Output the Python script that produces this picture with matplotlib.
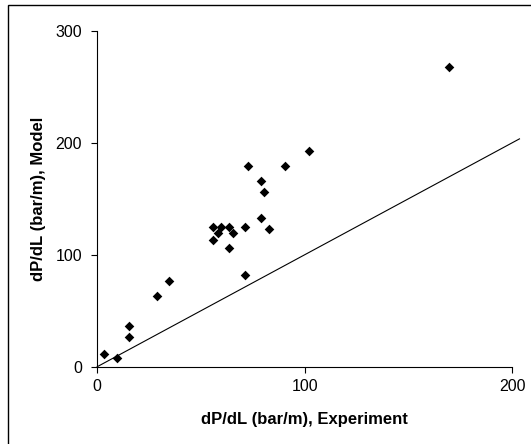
import numpy as np
import matplotlib.pyplot as plt
from matplotlib.patches import Rectangle

plt.rcParams['font.family'] = ['Liberation Sans', 'DejaVu Sans']

# Data
exp = [3.5, 9.6, 15.3, 15.3, 28.6, 34.7, 55.8, 55.8, 58.0, 59.5, 63.7, 63.7,
       65.6, 71.4, 71.4, 72.8, 78.9, 80.5, 78.9, 82.6, 90.4, 102.1, 169.3]
model = [11.0, 8.0, 36.6, 26.2, 63.1, 76.5, 125.0, 113.4, 119.6, 124.7, 125.0, 105.7,
         119.3, 124.7, 82.1, 178.9, 165.8, 156.0, 132.4, 122.6, 178.9, 192.3, 267.3]
diag = [0, 203.4]

fig = plt.figure(figsize=(5.31, 4.44), dpi=100)
ax = fig.add_axes([0.183, 0.174, 0.782, 0.757])

ax.plot(diag, diag, color='k', linewidth=0.8, clip_on=False)
ax.scatter(exp, model, marker='D', s=24, color='k', linewidths=0, zorder=3, clip_on=False)

ax.set_xlim(0, 200)
ax.set_ylim(0, 300)
ax.set_xticks([0, 100, 200])
ax.set_yticks([0, 100, 200, 300])
ax.spines['top'].set_visible(False)
ax.spines['right'].set_visible(False)
ax.spines['left'].set_linewidth(0.8)
ax.spines['bottom'].set_linewidth(0.8)
ax.tick_params(direction='out', length=4, width=0.8, labelsize=11.5)
ax.tick_params(axis='x', pad=4.5)
ax.tick_params(axis='y', pad=7)

ax.set_xlabel('dP/dL (bar/m), Experiment', fontsize=12, fontweight='bold', labelpad=13)
ax.set_ylabel('dP/dL (bar/m), Model', fontsize=12, fontweight='bold', labelpad=6.5)

# outer frame
fig.patches.append(Rectangle((8/531, -0.1), 1.2, 1 - 5/444 + 0.1, transform=fig.transFigure,
                             fill=False, edgecolor='k', linewidth=1.0))

fig.savefig('out.png', dpi=100)
